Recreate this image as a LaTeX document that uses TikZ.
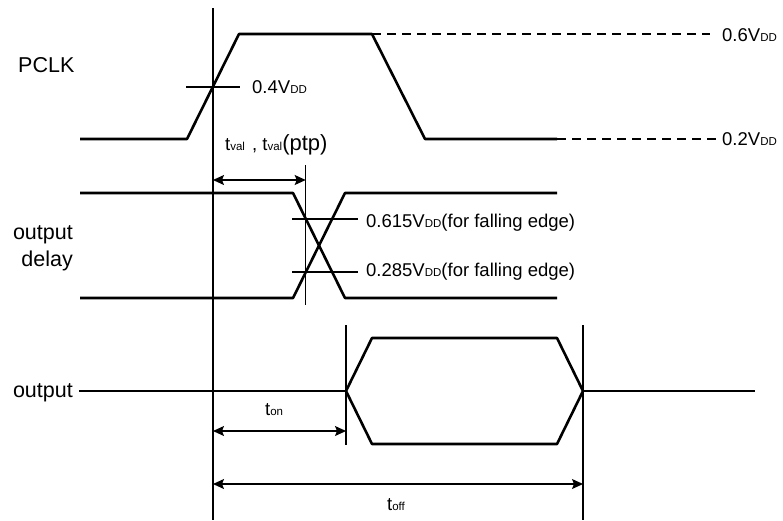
\documentclass[tikz,border=0pt]{standalone}
\usepackage{fontspec}
\setmainfont{Liberation Sans}
\usetikzlibrary{arrows.meta}
\newcommand\lbsub[1]{{\fontsize{11.5}{12}\selectfont #1}}
\newcommand\lbbig[1]{{\fontsize{22}{24}\selectfont #1}}
\tikzset{
  sig/.style={line width=2.6pt, line join=round},
  thinln/.style={line width=1.2pt},
  dimarrow/.style={line width=1.2pt, {Stealth[length=11pt,width=10pt,inset=2pt]}-{Stealth[length=11pt,width=10pt,inset=2pt]}},
  lvl/.style={line width=1.2pt, dash pattern=on 9pt off 6pt},
  lbl/.style={font=\fontsize{18.5}{20}\selectfont, inner sep=0pt, anchor=base west},
  side/.style={font=\fontsize{21.5}{27}\selectfont, inner sep=0pt}
}
\begin{document}
\begin{tikzpicture}[x=1pt,y=-1pt]
\useasboundingbox (0,0) rectangle (783,520);
% ---- PCLK ----
\coordinate (p0) at (80,139);
\coordinate (p1) at (187,139);
\coordinate (p2) at (239,34);
\coordinate (p3) at (372,34);
\coordinate (p4) at (425,139);
\coordinate (p5) at (557,139);
\coordinate (d6) at (710,34);
\coordinate (d2) at (716,139);
\draw[sig] (p0) -- (p1) -- (p2) -- (p3) -- (p4) -- (p5);
\draw[lvl] (p3) -- (d6);
\draw[lvl] (p5) -- (d2);
\node[lbl] (l06) at (722,41) {0.6V\lbsub{DD}};
\node[lbl] (l02) at (722,145) {0.2V\lbsub{DD}};
% reference vertical line
\coordinate (vt) at (213,8);
\coordinate (vb) at (213,520);
\draw[thinln] (vt) -- (vb);
\coordinate (h4a) at (186,87);
\coordinate (h4b) at (240,87);
\draw[thinln] (h4a) -- (h4b);
\node[lbl] (l04) at (252,93) {0.4V\lbsub{DD}};
\node[lbl] (ltval) at (225,150) {t\lbsub{val}\hspace{2pt} , t\lbsub{val}\lbbig{(ptp)}};
% ---- output delay ----
\coordinate (q0) at (80,193);
\coordinate (q1) at (293,193);
\coordinate (q2) at (345,298);
\coordinate (q3) at (557,298);
\coordinate (r0) at (80,298);
\coordinate (r1) at (293,298);
\coordinate (r2) at (345,193);
\coordinate (r3) at (557,193);
\draw[sig] (q0) -- (q1) -- (q2) -- (q3);
\draw[sig] (r0) -- (r1) -- (r2) -- (r3);
\coordinate (vdt) at (305.7,165);
\coordinate (vdb) at (305.7,305);
\draw[thinln] (vdt) -- (vdb);
\coordinate (a1l) at (213,180);
\coordinate (a1r) at (305.7,180);
\draw[dimarrow] (a1l) -- (a1r);
\coordinate (t6a) at (292,219);
\coordinate (t6b) at (358,219);
\coordinate (t2a) at (292,272);
\coordinate (t2b) at (358,272);
\draw[thinln] (t6a) -- (t6b);
\draw[thinln] (t2a) -- (t2b);
\node[lbl] (l615) at (366,227) {0.615V\lbsub{DD}(for falling edge)};
\node[lbl] (l285) at (366,276) {0.285V\lbsub{DD}(for falling edge)};
% ---- output ----
\coordinate (o0) at (79,391);
\coordinate (o1) at (346,391);
\coordinate (h1) at (372,338);
\coordinate (h2) at (557,338);
\coordinate (o2) at (583,391);
\coordinate (h3) at (557,444);
\coordinate (h4) at (372,444);
\coordinate (o3) at (755,391);
\draw[sig] (o0) -- (o1);
\draw[sig] (o1) -- (h1) -- (h2) -- (o2) -- (h3) -- (h4) -- cycle;
\draw[sig] (o2) -- (o3);
\coordinate (von_t) at (346,325);
\coordinate (von_b) at (346,445);
\coordinate (voff_t) at (583,325);
\coordinate (voff_b) at (583,520);
\draw[thinln] (von_t) -- (von_b);
\draw[thinln] (voff_t) -- (voff_b);
\coordinate (a2l) at (213,431);
\coordinate (a2r) at (346,431);
\draw[dimarrow] (a2l) -- (a2r);
\coordinate (a3l) at (213,484);
\coordinate (a3r) at (583,484);
\draw[dimarrow] (a3l) -- (a3r);
\node[lbl] (lton) at (265,415) {t\lbsub{on}};
\node[lbl] (ltoff) at (387,510) {t\lbsub{off}};
% ---- side labels ----
\node[side, anchor=base west] (pclk) at (18,72) {PCLK};
\node[side, anchor=east, align=right] (odel) at (73,248) {output\\delay};
\node[side, anchor=base east] (outl) at (73,397) {output};
\end{tikzpicture}
\end{document}
